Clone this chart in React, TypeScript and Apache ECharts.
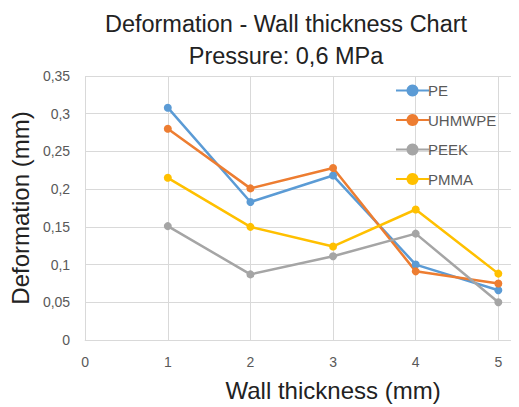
import React, { useEffect, useRef } from "react";
import * as echarts from "echarts";

// Wall thickness (mm) at which each deformation was measured
const thickness = [1, 2, 3, 4, 5];

// Deformation (mm) per material at 0.6 MPa
const pe = [0.308, 0.183, 0.218, 0.1, 0.066];
const uhmwpe = [0.28, 0.201, 0.228, 0.091, 0.075];
const peek = [0.151, 0.087, 0.111, 0.141, 0.05];
const pmma = [0.215, 0.15, 0.124, 0.173, 0.088];

const seriesNames = ["PE", "UHMWPE", "PEEK", "PMMA"];
const seriesColors = ["#5B9BD5", "#ED7D31", "#A5A5A5", "#FFC000"];
const seriesValues = [pe, uhmwpe, peek, pmma];

const FONT = "Liberation Sans, Arial, sans-serif";

export default function App() {
  const ref = useRef<HTMLDivElement>(null);

  useEffect(() => {
    if (!ref.current) return;
    const chart = echarts.init(ref.current, undefined, { renderer: "svg" });

    const fmtComma = (v: number) => String(+v.toFixed(2)).replace(".", ",");

    chart.setOption({
      animation: false,
      backgroundColor: "#ffffff",
      textStyle: { fontFamily: FONT },
      title: {
        text: "Deformation - Wall thickness Chart\nPressure: 0,6 MPa",
        left: 281,
        top: 3,
        textAlign: "center",
        textStyle: {
          fontFamily: FONT,
          fontSize: 23.5,
          fontWeight: "normal",
          color: "#222222",
          lineHeight: 32,
        },
      },
      legend: {
        orient: "vertical",
        left: 390,
        top: 78,
        itemWidth: 33,
        itemHeight: 15,
        itemGap: 14.5,
        data: seriesNames,
        textStyle: { fontFamily: FONT, fontSize: 15, color: "#595959", padding: [0, 0, 0, -6] },
      },
      grid: { left: 83, right: 0, top: 76, bottom: 62 },
      xAxis: {
        type: "value",
        min: 0,
        max: 5.25,
        interval: 1,
        name: "Wall thickness (mm)",
        nameLocation: "middle",
        nameGap: 38,
        nameTextStyle: {
          fontFamily: FONT,
          fontSize: 24,
          color: "#222222",
          padding: [0, 0, 0, 62],
        },
        axisLine: { show: true, lineStyle: { color: "#D9D9D9", width: 1 } },
        axisTick: { show: false },
        axisLabel: {
          color: "#595959",
          fontSize: 14,
          fontFamily: FONT,
          margin: 15,
          showMaxLabel: false,
          formatter: (v: number) => (Number.isInteger(v) ? String(v) : ""),
        },
        splitLine: { show: true, lineStyle: { color: "#D9D9D9", width: 1 } },
      },
      yAxis: {
        type: "value",
        min: 0,
        max: 0.35,
        interval: 0.05,
        name: "Deformation (mm)",
        nameLocation: "middle",
        nameGap: 43,
        nameTextStyle: { fontFamily: FONT, fontSize: 24, color: "#222222" },
        axisLine: { show: false },
        axisTick: { show: false },
        axisLabel: {
          color: "#595959",
          fontSize: 14,
          fontFamily: FONT,
          margin: 15,
          formatter: fmtComma,
        },
        splitLine: { show: true, lineStyle: { color: "#D9D9D9", width: 1 } },
      },
      series: seriesNames.map((name, i) => ({
        name,
        type: "line",
        data: thickness.map((t, j) => [t, seriesValues[i][j]]),
        symbol: "circle",
        symbolSize: 8,
        color: seriesColors[i],
        lineStyle: { width: 2.5, color: seriesColors[i] },
        itemStyle: { color: seriesColors[i] },
      })),
    });

    return () => chart.dispose();
  }, []);

  return <div ref={ref} style={{ width: 519, height: 407, marginLeft: -8, marginTop: -8 }} />;
}
